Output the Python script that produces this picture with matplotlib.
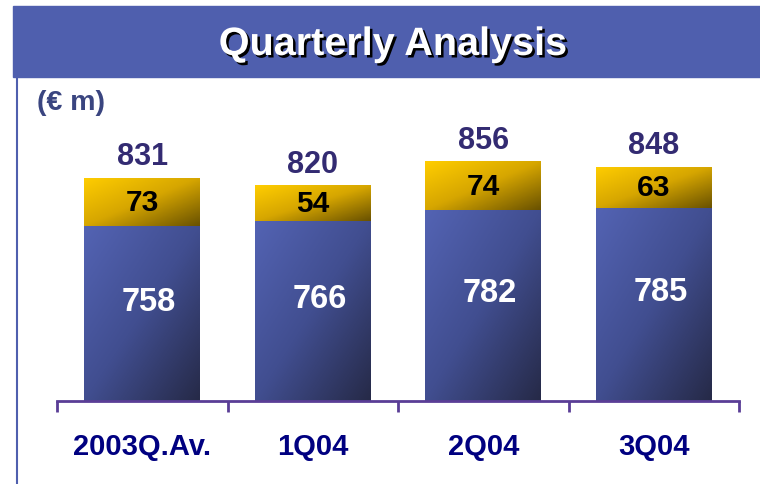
import matplotlib
matplotlib.use("Agg")
import matplotlib.pyplot as plt
import matplotlib.patheffects as pe
from matplotlib.colors import LinearSegmentedColormap
from matplotlib.patches import Rectangle
import numpy as np

plt.rcParams['font.family'] = ['Liberation Sans', 'DejaVu Sans']

categories = ['2003Q.Av.', '1Q04', '2Q04', '3Q04']
base_vals = [758, 766, 782, 785]
top_vals = [73, 54, 74, 63]
totals = [831, 820, 856, 848]

W, H = 760, 485
fig = plt.figure(figsize=(W / 100, H / 100), dpi=100)

# title bar + thin left rule
fig.patches.append(Rectangle((13 / W, 1 - 78 / H), (W - 13) / W, 71 / H,
                             transform=fig.transFigure, color='#4f5fae', zorder=0))
fig.add_artist(plt.Line2D([16.5 / W, 16.5 / W], [0, 1 - 78 / H],
                          transform=fig.transFigure, color='#4f5fae', lw=1.5))
fig.text(393 / W, 1 - 45 / H, 'Quarterly Analysis', color='white', fontsize=28.5,
         fontweight='bold', ha='center', va='center',
         path_effects=[pe.SimplePatchShadow(offset=(1.8, -1.8), shadow_rgbFace='black', alpha=1),
                       pe.Normal()])
fig.text(37 / W, 1 - 103 / H, '(€ m)', color='#3a4580', fontsize=20.5,
         fontweight='bold', ha='left', va='center')

ax = fig.add_axes([57 / W, 1 - 402 / H, (739 - 57) / W, (402 - 100) / H])
ymin = 493
ymax = ymin + (402 - 100) / 0.66
x = np.arange(len(categories))
width = 0.68

blue_cm = LinearSegmentedColormap.from_list('b', ['#5363b3', '#414e90', '#262a48'])
gold_cm = LinearSegmentedColormap.from_list('g', ['#ffcd00', '#d6a600', '#6a5200'])

gx, gy = np.meshgrid(np.linspace(0, 1, 60), np.linspace(0, 1, 60))
grad = 0.5 * gx + 0.5 * (1 - gy)

bars_base = ax.bar(x, np.array(base_vals) - ymin, width, bottom=ymin, color='#4150a0', zorder=2)
bars_top = ax.bar(x, top_vals, width, bottom=base_vals, color='#e0b000', zorder=2)

for bars, cm in [(bars_base, blue_cm), (bars_top, gold_cm)]:
    for b in bars:
        x0, y0 = b.get_x(), b.get_y()
        im = ax.imshow(grad, extent=[x0, x0 + b.get_width(), y0, y0 + b.get_height()],
                       cmap=cm, origin='lower', aspect='auto', zorder=3,
                       interpolation='bilinear')
        im.set_clip_path(b)

for i in range(len(categories)):
    ax.annotate(str(totals[i]), (x[i], totals[i]), xytext=(0, 15.5),
                textcoords='offset points', ha='center', va='center',
                fontsize=22, fontweight='bold', color='#332b72', zorder=5)
    ax.text(x[i], base_vals[i] + top_vals[i] / 2, str(top_vals[i]), ha='center',
            va='center', fontsize=21.5, fontweight='bold', color='black', zorder=5)
    ax.text(x[i] + 0.04, base_vals[i] - (base_vals[i] - ymin) * 0.43, str(base_vals[i]),
            ha='center', va='center', fontsize=23.5, fontweight='bold', color='white', zorder=5)

ax.set_xlim(-0.5, len(categories) - 0.5)
ax.set_ylim(ymin, ymax)
for s in ['top', 'right', 'left']:
    ax.spines[s].set_visible(False)
ax.spines['bottom'].set_color('#5a3d96')
ax.spines['bottom'].set_linewidth(2)
ax.spines['bottom'].set_zorder(6)
ax.set_yticks([])
ax.set_xticks(x)
ax.set_xticklabels(categories, fontsize=21, fontweight='bold', color='#000080')
ax.tick_params(axis='x', which='major', length=0, pad=22)
ax.set_xticks(np.arange(len(categories) + 1) - 0.5, minor=True)
ax.tick_params(axis='x', which='minor', length=8, width=2, color='#5a3d96', direction='out')
ax.patch.set_visible(False)

fig.savefig('out.png', dpi=100)
